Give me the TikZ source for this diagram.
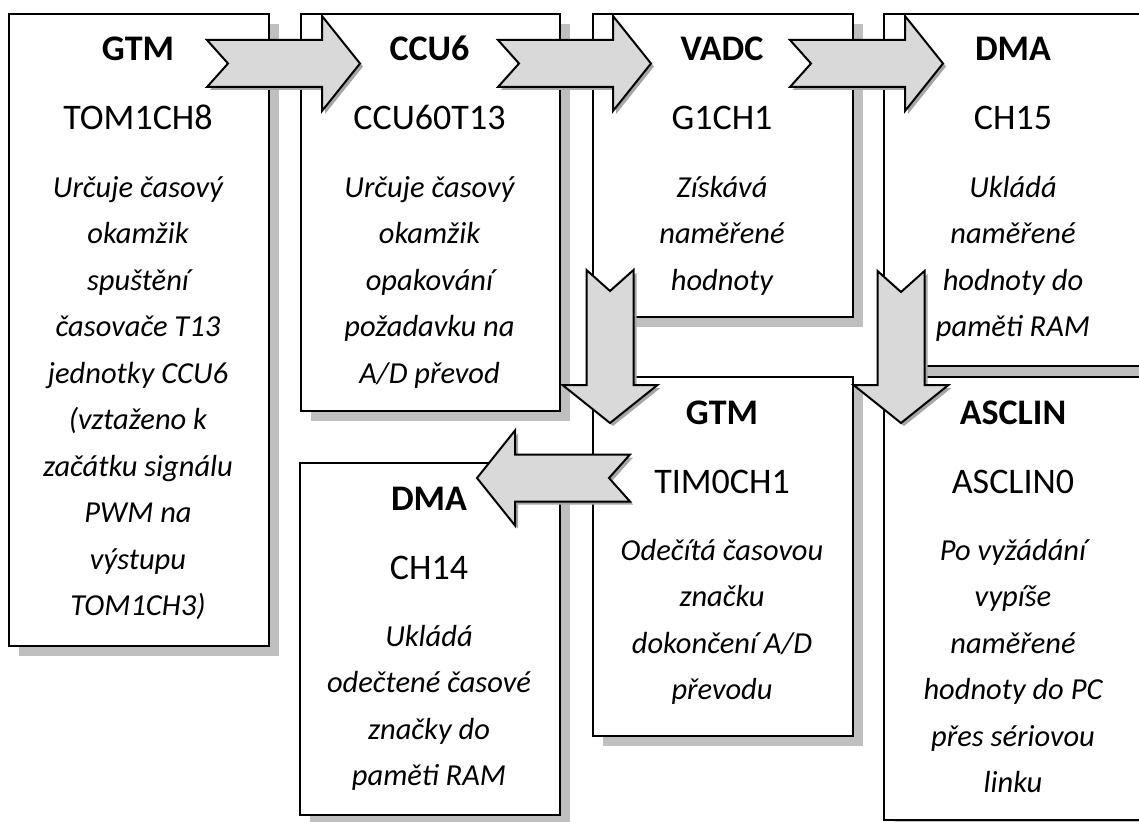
\documentclass[tikz,border=0pt]{standalone}
\usepackage{fontspec}
\setmainfont{Carlito}
\usetikzlibrary{shadows}
\definecolor{arrowgray}{HTML}{D9D9D9}
\definecolor{boxshadow}{HTML}{BFBFBF}
\definecolor{arrowshadow}{HTML}{A6A6A6}
\tikzset{
  box/.style={draw=black, line width=2.2pt, fill=white, anchor=north west, inner sep=0pt,
    drop shadow={shadow xshift=10pt, shadow yshift=-10pt, fill=boxshadow, opacity=1}},
  ttl/.style={font=\fontsize{36}{36}\selectfont\bfseries, anchor=base, inner sep=0pt},
  nm/.style={font=\fontsize{36}{36}\selectfont, anchor=base, inner sep=0pt},
  dsc/.style={font=\fontsize{30.5}{46.5}\selectfont\itshape, align=center, anchor=north, inner sep=0pt},
  blockfill/.style={draw=black, line width=2pt, fill=arrowgray, line join=miter},
  blockshadow/.style={fill=arrowshadow},
}
% tail x, tail y, angle, length
\newcommand{\blockarrow}[4]{%
  \fill[blockshadow, shift={(#1,#2)}, xshift=3pt, yshift=-3pt, rotate=#3]
    (0,-23.5) -- ({#4-38},-23.5) -- ({#4-38},-47.5) -- (#4,0) -- ({#4-38},47.5) -- ({#4-38},23.5) -- (0,23.5) -- (21,0) -- cycle;
  \draw[blockfill, shift={(#1,#2)}, rotate=#3]
    (0,-23.5) -- ({#4-38},-23.5) -- ({#4-38},-47.5) -- (#4,0) -- ({#4-38},47.5) -- ({#4-38},23.5) -- (0,23.5) -- (21,0) -- cycle;
}
\begin{document}
\begin{tikzpicture}[x=1pt,y=-1pt]
\path[use as bounding box] (0,0) rectangle (1139,821);
\clip (0,0) rectangle (1139,821);
\fill[white] (0,0) rectangle (1139,821);

% boxes
\node[box, minimum width=260pt, minimum height=632pt] (gtm) at (8,13) {};
\node[box, minimum width=259pt, minimum height=397pt] (ccu) at (300,13) {};
\node[box, minimum width=260pt, minimum height=303pt] (vadc) at (592,13) {};
\node[box, minimum width=260pt, minimum height=352pt] (dmaa) at (883,13) {};
\node[box, minimum width=260pt, minimum height=359pt] (tim) at (592,376) {};
\node[box, minimum width=260pt, minimum height=352pt] (dmab) at (299,462) {};
\node[box, minimum width=260pt, minimum height=443pt] (asc) at (883,376) {};

% texts
\node[ttl] (gtmT) at (138,61) {GTM};
\node[nm]  (gtmN) at (138,130) {TOM1CH8};
\node[dsc] (gtmD) at (138,164.5) {\strut Určuje časový\\okamžik\\spuštění\\časovače T13\\jednotky CCU6\\(vztaženo k\\začátku signálu\\PWM na\\výstupu\\TOM1CH3)};

\node[ttl] (ccuT) at (429.5,61) {CCU6};
\node[nm]  (ccuN) at (429.5,130) {CCU60T13};
\node[dsc] (ccuD) at (429.5,164.5) {\strut Určuje časový\\okamžik\\opakování\\požadavku na\\A/D převod};

\node[ttl] (vadcT) at (722,61) {VADC};
\node[nm]  (vadcN) at (722,130) {G1CH1};
\node[dsc] (vadcD) at (722,164.5) {\strut Získává\\naměřené\\hodnoty};

\node[ttl] (dmaaT) at (1013,61) {DMA};
\node[nm]  (dmaaN) at (1013,130) {CH15};
\node[dsc] (dmaaD) at (1013,164.5) {\strut Ukládá\\naměřené\\hodnoty do\\paměti RAM};

\node[ttl] (timT) at (722,424) {GTM};
\node[nm]  (timN) at (722,493) {TIM0CH1};
\node[dsc] (timD) at (722,527.5) {\strut Odečítá časovou\\značku\\dokončení A/D\\převodu};

\node[ttl] (dmabT) at (429,510) {DMA};
\node[nm]  (dmabN) at (429,579) {CH14};
\node[dsc] (dmabD) at (429,613.5) {\strut Ukládá\\odečtené časové\\značky do\\paměti RAM};

\node[ttl] (ascT) at (1013,424) {ASCLIN};
\node[nm]  (ascN) at (1013,493) {ASCLIN0};
\node[dsc] (ascD) at (1013,527.5) {\strut Po vyžádání\\vypíše\\naměřené\\hodnoty do PC\\přes sériovou\\linku};

% block arrows
\blockarrow{207}{63.5}{0}{153}
\blockarrow{498}{63.5}{0}{153}
\blockarrow{790}{63.5}{0}{153}
\blockarrow{610}{270}{-90}{153}
\blockarrow{901}{271}{-90}{152}
\blockarrow{630}{478}{180}{153}
\end{tikzpicture}
\end{document}
